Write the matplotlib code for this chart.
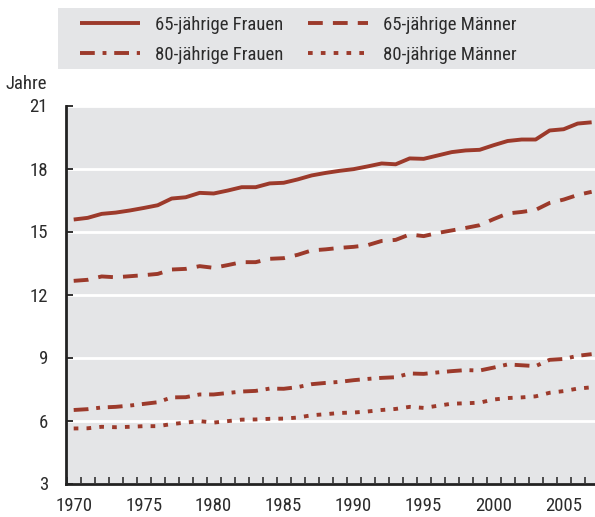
import matplotlib
matplotlib.use("Agg")
import matplotlib.pyplot as plt
from matplotlib.patches import Rectangle
from matplotlib.ticker import FixedLocator
import numpy as np

years = list(range(1970, 2008))
frauen65 = [15.57, 15.65, 15.84, 15.90, 16.00, 16.12, 16.25, 16.57, 16.63, 16.84,
            16.81, 16.95, 17.11, 17.11, 17.29, 17.32, 17.48, 17.67, 17.79, 17.89,
            17.97, 18.10, 18.24, 18.20, 18.48, 18.46, 18.62, 18.78, 18.86, 18.89,
            19.11, 19.31, 19.38, 19.38, 19.81, 19.87, 20.14, 20.20]
maenner65 = [12.65, 12.70, 12.86, 12.82, 12.87, 12.92, 12.98, 13.19, 13.22, 13.35,
             13.27, 13.40, 13.54, 13.54, 13.70, 13.73, 13.89, 14.10, 14.15, 14.22,
             14.27, 14.35, 14.55, 14.60, 14.86, 14.78, 14.93, 15.05, 15.17, 15.30,
             15.59, 15.86, 15.93, 16.03, 16.36, 16.52, 16.74, 16.89]
frauen80 = [6.50, 6.54, 6.62, 6.65, 6.71, 6.79, 6.87, 7.10, 7.11, 7.24,
            7.24, 7.31, 7.38, 7.41, 7.52, 7.51, 7.59, 7.73, 7.79, 7.84,
            7.92, 7.98, 8.03, 8.06, 8.24, 8.22, 8.29, 8.35, 8.40, 8.38,
            8.52, 8.67, 8.63, 8.59, 8.89, 8.93, 9.08, 9.16]
maenner80 = [5.62, 5.63, 5.70, 5.68, 5.70, 5.73, 5.73, 5.83, 5.90, 5.97,
             5.90, 5.97, 6.04, 6.05, 6.08, 6.09, 6.14, 6.25, 6.30, 6.36,
             6.38, 6.43, 6.50, 6.55, 6.65, 6.60, 6.70, 6.80, 6.82, 6.85,
             7.00, 7.07, 7.10, 7.15, 7.32, 7.40, 7.52, 7.58]
labels = ["65-jährige Frauen", "65-jährige Männer", "80-jährige Frauen", "80-jährige Männer"]
xtick_years = [1970, 1975, 1980, 1985, 1990, 1995, 2000, 2005]
yticks = [3, 6, 9, 12, 15, 18, 21]

FONT = ['Roboto Condensed', 'DejaVu Sans']
plt.rcParams['font.family'] = FONT
FS = 13.5
plt.rcParams['font.size'] = FS
TXT = '#2b2b2b'
RED = '#9c3a2b'
GRAY = '#e4e5e7'

W, H = 595, 517
fig = plt.figure(figsize=(W / 100, H / 100), dpi=100)
ax = fig.add_axes([66 / W, 1 - 483.5 / H, (W - 66) / W, (483.5 - 105.5) / H])
ax.set_facecolor(GRAY)

lw = 2.8
l1, = ax.plot(years, frauen65, color=RED, lw=lw, solid_capstyle='butt', label=labels[0])
l2, = ax.plot(years, maenner65, color=RED, lw=lw, dashes=(3.8, 2.6), dash_capstyle='butt', label=labels[1])
l3, = ax.plot(years, frauen80, color=RED, lw=lw, dashes=(3.8, 2.0, 1.0, 2.0), dash_capstyle='butt', label=labels[2])
l4, = ax.plot(years, maenner80, color=RED, lw=lw, dashes=(1.2, 2.1), dash_capstyle='butt', label=labels[3])

ax.set_xlim(1969.45, 2007.24)
ax.set_ylim(3, 21)
ax.set_yticks(yticks)
ax.set_xticks(xtick_years)
ax.xaxis.set_minor_locator(FixedLocator(np.arange(1969.5, 2007.5, 1.0)))
ax.tick_params(axis='x', which='major', length=0, pad=9.5, labelsize=FS, colors=TXT)
ax.tick_params(axis='x', which='minor', direction='in', length=5, width=1.1, color='#222222')
ax.tick_params(axis='y', which='major', direction='in', length=5, width=1.3, color='#222222',
               labelsize=FS, labelcolor=TXT, pad=13)
ax.yaxis.grid(True, color='white', lw=2)
ax.set_axisbelow(True)
for s in ['top', 'right']:
    ax.spines[s].set_visible(False)
for s in ['left', 'bottom']:
    ax.spines[s].set_color('#222222')
    ax.spines[s].set_linewidth(2)
    ax.spines[s].set_zorder(5)

fig.patches.append(Rectangle((58 / W, 1 - 69 / H), (W - 58) / W, 61 / H,
                             transform=fig.transFigure, facecolor=GRAY, edgecolor='none', zorder=0))
leg = fig.legend(handles=[l1, l3, l2, l4], labels=[labels[0], labels[2], labels[1], labels[3]],
                 ncol=2, loc='upper left',
                 bbox_to_anchor=(80 / W, 1 - 15.5 / H), frameon=False, fontsize=FS,
                 handlelength=3.2, handletextpad=0.8, columnspacing=1.3,
                 labelspacing=0.65, borderpad=0, borderaxespad=0)
for t in leg.get_texts():
    t.set_color(TXT)

fig.text(6 / W, 1 - 84 / H, 'Jahre', fontsize=FS, color=TXT, va='center', ha='left')

fig.savefig('out.png', dpi=100)
